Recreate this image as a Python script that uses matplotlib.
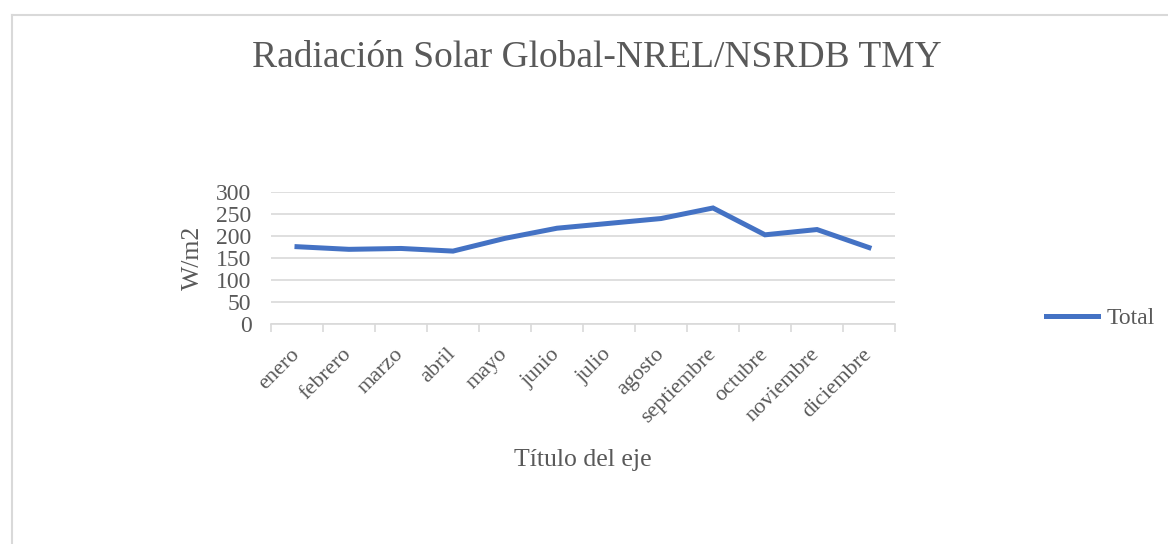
import matplotlib.pyplot as plt
from matplotlib.lines import Line2D

meses = ["enero", "febrero", "marzo", "abril", "mayo", "junio", "julio",
         "agosto", "septiembre", "octubre", "noviembre", "diciembre"]
total = [175, 169, 171, 165, 194, 217, 228, 239, 263, 202, 214, 173]
yticks = [0, 50, 100, 150, 200, 250, 300]

gris = "#595959"
plt.rcParams["font.family"] = ["Liberation Serif", "DejaVu Serif"]

fig = plt.figure(figsize=(11.68, 5.44), dpi=100)
W, H = 1168, 544

# borde del gráfico (estilo Excel)
fig.add_artist(Line2D([12 / W, 12 / W], [0, 1 - 15 / H], color="#d9d9d9", lw=1.5))
fig.add_artist(Line2D([12 / W, 1], [1 - 15 / H, 1 - 15 / H], color="#d9d9d9", lw=1.5))

ax = fig.add_axes([271 / W, (H - 323.7) / H, 624 / W, 132 / H])
x = list(range(len(meses)))
ax.plot(x, total, color="#4472c4", lw=3.6, solid_joinstyle="miter", label="Total")

ax.set_xlim(-0.5, len(meses) - 0.5)
ax.set_ylim(0, 300)
ax.set_yticks(yticks)
ax.yaxis.grid(True, color="#d9d9d9", lw=1.2)
ax.set_axisbelow(True)
for s in ["top", "right", "left"]:
    ax.spines[s].set_visible(False)
ax.spines["bottom"].set_color("#d9d9d9")
ax.spines["bottom"].set_linewidth(1.2)

ax.set_xticks([i - 0.5 for i in range(len(meses) + 1)], minor=True)
ax.set_xticks(x)
ax.set_xticklabels(meses, rotation=45, ha="right", va="center",
                   rotation_mode="anchor", fontsize=16, color=gris)
ax.tick_params(axis="x", which="major", length=0, pad=20)
ax.tick_params(axis="x", which="minor", length=6, color="#d9d9d9", width=1.2)
ax.tick_params(axis="y", length=0, labelsize=17, labelcolor=gris, pad=14)

fig.text(193 / W, 1 - 258 / H, "W/m2", rotation=90, ha="center", va="center",
         fontsize=18.5, color=gris)
fig.text(583 / W, 1 - 460 / H, "Título del eje", ha="center", va="center",
         fontsize=18.5, color=gris)
fig.text(597 / W, 1 - 58 / H, "Radiación Solar Global-NREL/NSRDB TMY",
         ha="center", va="center", fontsize=27, color=gris)

fig.legend(loc="center left", bbox_to_anchor=(1046 / W, 1 - 318 / H), frameon=False,
           fontsize=17, labelcolor=gris, handlelength=2.2, handletextpad=0.35,
           borderaxespad=0, borderpad=0)

fig.savefig("out.png", dpi=100)
